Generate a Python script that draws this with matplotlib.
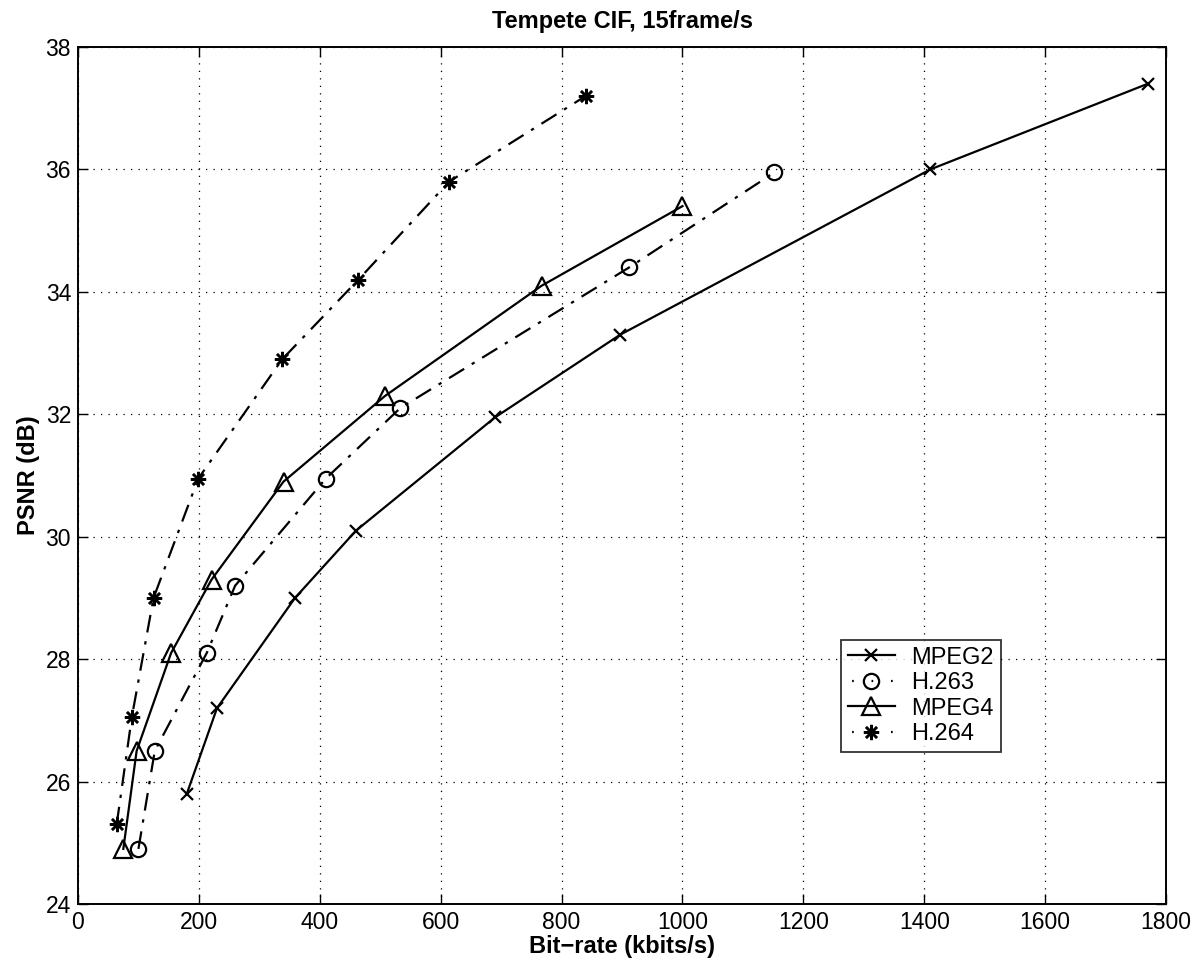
import matplotlib
matplotlib.use("Agg")
import matplotlib.pyplot as plt

plt.rcParams['font.family'] = ['Liberation Sans', 'DejaVu Sans']

# Rate-distortion points
mpeg2_rate = [180, 230, 359, 460, 690, 897, 1410, 1770]
mpeg2_psnr = [25.8, 27.2, 29.0, 30.1, 31.95, 33.3, 36.0, 37.4]

h263_rate = [100, 127, 213, 260, 410, 533, 912, 1152]
h263_psnr = [24.9, 26.5, 28.1, 29.2, 30.95, 32.1, 34.4, 35.95]

mpeg4_rate = [75, 97, 154, 221, 340, 508, 767, 1000]
mpeg4_psnr = [24.9, 26.5, 28.1, 29.3, 30.9, 32.3, 34.1, 35.4]

h264_rate = [64, 89, 125, 199, 338, 464, 614, 840]
h264_psnr = [25.3, 27.05, 29.0, 30.95, 32.9, 34.2, 35.8, 37.2]

fig = plt.figure(figsize=(11.98, 9.71), dpi=100)
ax = fig.add_axes([0.0651, 0.069, 0.9082, 0.8826])

lw = 1.6
ax.plot(mpeg2_rate, mpeg2_psnr, color='black', linestyle='-', linewidth=lw,
        marker='x', markersize=9, markeredgewidth=1.6, label='MPEG2')
ax.plot(h263_rate, h263_psnr, color='black', linestyle=(0, (8, 4, 1.5, 4)), linewidth=lw,
        marker='o', markersize=11, markerfacecolor='none', markeredgewidth=1.6, label='H.263')
ax.plot(mpeg4_rate, mpeg4_psnr, color='black', linestyle='-', linewidth=lw,
        marker='^', markersize=13, markerfacecolor='none', markeredgewidth=1.6, label='MPEG4')
ax.plot(h264_rate, h264_psnr, color='black', linestyle=(0, (8, 4, 1.5, 4)), linewidth=lw,
        marker=(8, 2, 0), markersize=11, markeredgewidth=1.8, label='H.264')

ax.set_xlim(0, 1800)
ax.set_ylim(24, 38)
ax.set_xticks(range(0, 1801, 200))
ax.set_yticks(range(24, 39, 2))
ax.tick_params(direction='in', top=True, right=True, length=7, width=1,
               labelsize=16.5, pad=5)
ax.grid(True, linestyle=(0, (1, 5)), color='black', linewidth=0.9)
for s in ax.spines.values():
    s.set_linewidth(1.4)

ax.set_xlabel('Bit\u2212rate (kbits/s)', fontsize=17, fontweight='bold', labelpad=1)
ax.set_ylabel('PSNR (dB)', fontsize=17, fontweight='bold', labelpad=4)
ax.set_title('Tempete CIF, 15frame/s', fontsize=17, fontweight='bold', pad=14)

leg = ax.legend(loc='lower left', bbox_to_anchor=(0.701, 0.177), fontsize=17,
                frameon=True, fancybox=False, edgecolor='black', handlelength=2.0,
                borderpad=0.3, labelspacing=0.15, handletextpad=0.7,
                borderaxespad=0)
leg.get_frame().set_linewidth(1.3)
# short dash-dot handles look like dots either side of the marker
for line in leg.get_lines()[1::2]:
    line.set_linestyle((6.9, (0.75, 8.0)))

fig.savefig('out.png', dpi=100)
